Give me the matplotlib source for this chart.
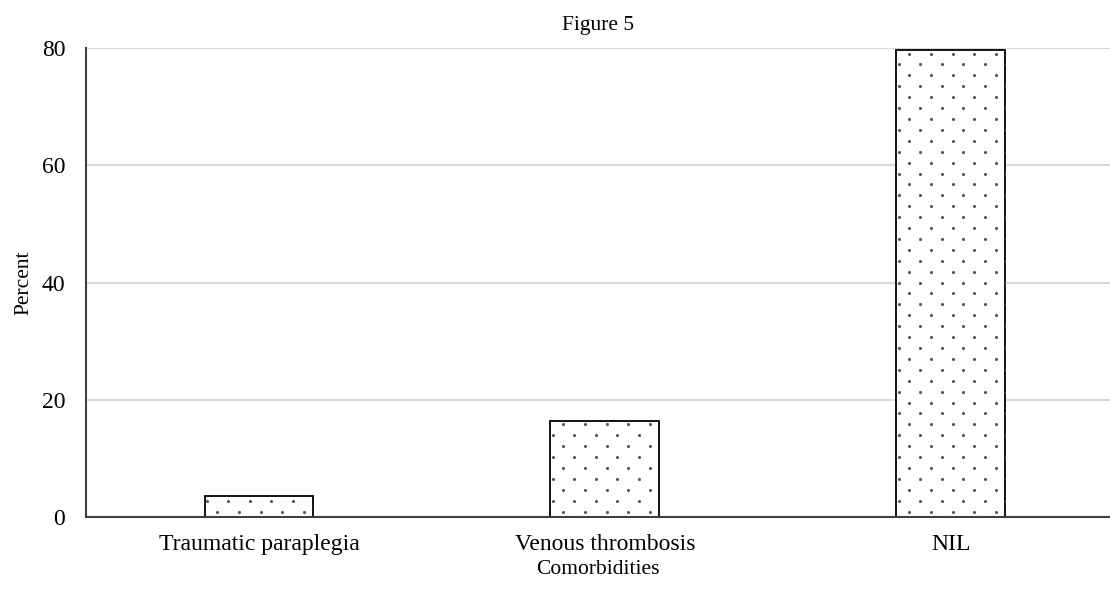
import numpy as np
import matplotlib.pyplot as plt

# comorbidity distribution
categories = ['Traumatic paraplegia', 'Venous thrombosis', 'NIL']
percent = [3.5, 16.4, 79.7]

plt.rcParams['font.family'] = ['Liberation Serif', 'DejaVu Serif']

fig = plt.figure(figsize=(11.1, 5.9), dpi=100)
ax = fig.add_axes([0.0775, 0.1237, 0.9225, 0.7949])

x = np.arange(len(categories))
bars = ax.bar(x, percent, width=0.315, color='white', edgecolor='black',
              linewidth=1.3, zorder=3)

# dotted fill pattern, staggered rows, clipped to each bar
dx = 0.0624   # spacing along x (data units)
dy = 1.86     # spacing between rows (data units)
for i, b in enumerate(bars):
    x0, w, h = b.get_x(), b.get_width(), b.get_height()
    px, py = [], []
    rows = np.arange(0.5 * dy, h + dy, dy)
    for r, yy in enumerate(rows):
        start = x0 - dx + (dx / 2 if r % 2 else 0) + 0.6 * dx
        xs = np.arange(start, x0 + w + dx, dx)
        px.extend(xs)
        py.extend([yy] * len(xs))
    dots = ax.scatter(px, py, s=5, color='#555555', marker='o',
                      linewidths=0, zorder=4)
    dots.set_clip_path(b)

ax.set_xlim(-0.5, 2.46)
ax.set_ylim(0, 80)
ax.set_yticks([0, 20, 40, 60, 80])
ax.set_xticks(x)
ax.set_xticklabels(categories)
ax.tick_params(axis='both', length=0, labelsize=17)
ax.tick_params(axis='y', pad=15)
ax.tick_params(axis='x', pad=12)

ax.yaxis.grid(True, color='#d9d9d9', linewidth=1.5, zorder=0)
ax.set_axisbelow(True)
for s in ['top', 'right']:
    ax.spines[s].set_visible(False)
ax.spines['left'].set_color('#404040')
ax.spines['bottom'].set_color('#404040')
ax.spines['left'].set_linewidth(1.5)
ax.spines['bottom'].set_linewidth(1.5)
ax.spines['left'].set_zorder(5)
ax.spines['bottom'].set_zorder(5)

ax.set_xlabel('Comorbidities', fontsize=15.5, labelpad=4)
ax.set_ylabel('Percent', fontsize=15.5, labelpad=6)
ax.set_title('Figure 5', fontsize=15.5, pad=13)

fig.savefig('out.png', dpi=100)
